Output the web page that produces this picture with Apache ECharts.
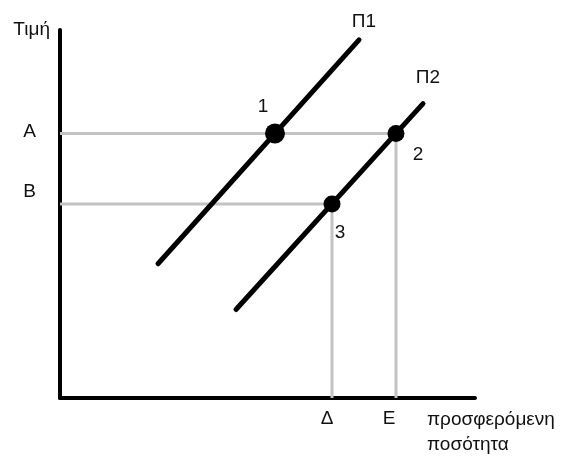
<!DOCTYPE html>
<html>
<head>
<meta charset="utf-8">
<title>Προσφορά Π1 - Π2</title>
<script src="https://cdn.jsdelivr.net/npm/echarts@6/dist/echarts.min.js"></script>
<style>
  html, body { margin: 0; padding: 0; background: #fff; }
  #main { width: 562px; height: 457px; }
</style>
</head>
<body>
<div id="main"></div>
<script>
// supply curves (quantity, price)
let supply1 = [[98, 135], [299, 360]];
let supply2 = [[176, 89], [363, 296]];
// marked points 1, 2, 3
let pointNames = ["1", "2", "3"];
let points = [[215, 266], [336, 266], [272, 195]];
// guide lines to the axes
let guideA = [[0, 266], [336, 266], [336, 0]];
let guideB = [[0, 195], [272, 195], [272, 0]];
// axis tick labels
let priceTicks = [268, 207];
let priceNames = ["A", "B"];
let qtyTicks = [267, 329];
let qtyNames = ["Δ", "Ε"];

let dom = document.getElementById("main");
let myChart = echarts.init(dom, null, { renderer: "canvas", useDirtyRect: false });

let font = "Liberation Sans, Arial, sans-serif";
let txt = { fontFamily: font, fontSize: 19, color: "#111" };

function curveLabel(name, off) {
    return {
        show: true, formatter: name, position: "inside",
        offset: off, fontFamily: font, fontSize: 19, color: "#111"
    };
}

let pointOffsets = [[-12, -27], [22, 21], [8, 29]];
let pointSizes = [20, 17, 17];

let option = {
    animation: false,
    grid: { left: 60, right: 87, top: 30, bottom: 57 },
    xAxis: {
        type: "value", min: 0, max: 415,
        name: "προσφερόμενη\nποσότητα",
        nameLocation: "end", nameGap: -48,
        nameTextStyle: Object.assign({}, txt, {
            align: "left", verticalAlign: "top", lineHeight: 25, padding: [9, 0, 0, 0]
        }),
        axisLine: { onZero: false, lineStyle: { color: "#000", width: 4 } },
        axisTick: { show: false },
        splitLine: { show: false },
        axisLabel: Object.assign({}, txt, {
            customValues: qtyTicks, margin: 11,
            formatter: function (v) { return qtyNames[qtyTicks.indexOf(v)]; }
        })
    },
    yAxis: {
        type: "value", min: 0, max: 370,
        name: "Τιμή",
        nameLocation: "end", nameGap: 0,
        nameTextStyle: Object.assign({}, txt, {
            align: "right", verticalAlign: "middle", padding: [0, 10, 0, 0]
        }),
        axisLine: { onZero: false, lineStyle: { color: "#000", width: 4 } },
        axisTick: { show: false },
        splitLine: { show: false },
        axisLabel: Object.assign({}, txt, {
            customValues: priceTicks, margin: 24,
            formatter: function (v) { return priceNames[priceTicks.indexOf(v)]; }
        })
    },
    series: [
        {
            type: "line", data: guideA, symbol: "none", z: 1, clip: false,
            lineStyle: { color: "#c3c3c3", width: 3 }
        },
        {
            type: "line", data: guideB, symbol: "none", z: 1, clip: false,
            lineStyle: { color: "#c3c3c3", width: 3 }
        },
        {
            type: "line", z: 2, clip: false, symbolSize: 0, showSymbol: true,
            data: [supply1[0], { value: supply1[1], label: curveLabel("Π1", [5, -18]) }],
            lineStyle: { color: "#000", width: 5, cap: "round" },
            itemStyle: { color: "#000" }
        },
        {
            type: "line", z: 2, clip: false, symbolSize: 0, showSymbol: true,
            data: [supply2[0], { value: supply2[1], label: curveLabel("Π2", [5, -26]) }],
            lineStyle: { color: "#000", width: 5, cap: "round" },
            itemStyle: { color: "#000" }
        },
        {
            type: "scatter", z: 3, clip: false,
            data: points.map(function (p, i) {
                return {
                    value: p,
                    symbolSize: pointSizes[i],
                    label: {
                        show: true, formatter: pointNames[i], position: "inside",
                        offset: pointOffsets[i], fontFamily: font, fontSize: 19, color: "#111"
                    }
                };
            }),
            itemStyle: { color: "#000", opacity: 1 }
        }
    ]
};

if (option && typeof option === "object") {
    myChart.setOption(option);
}

window.addEventListener("resize", myChart.resize);
</script>
</body>
</html>
